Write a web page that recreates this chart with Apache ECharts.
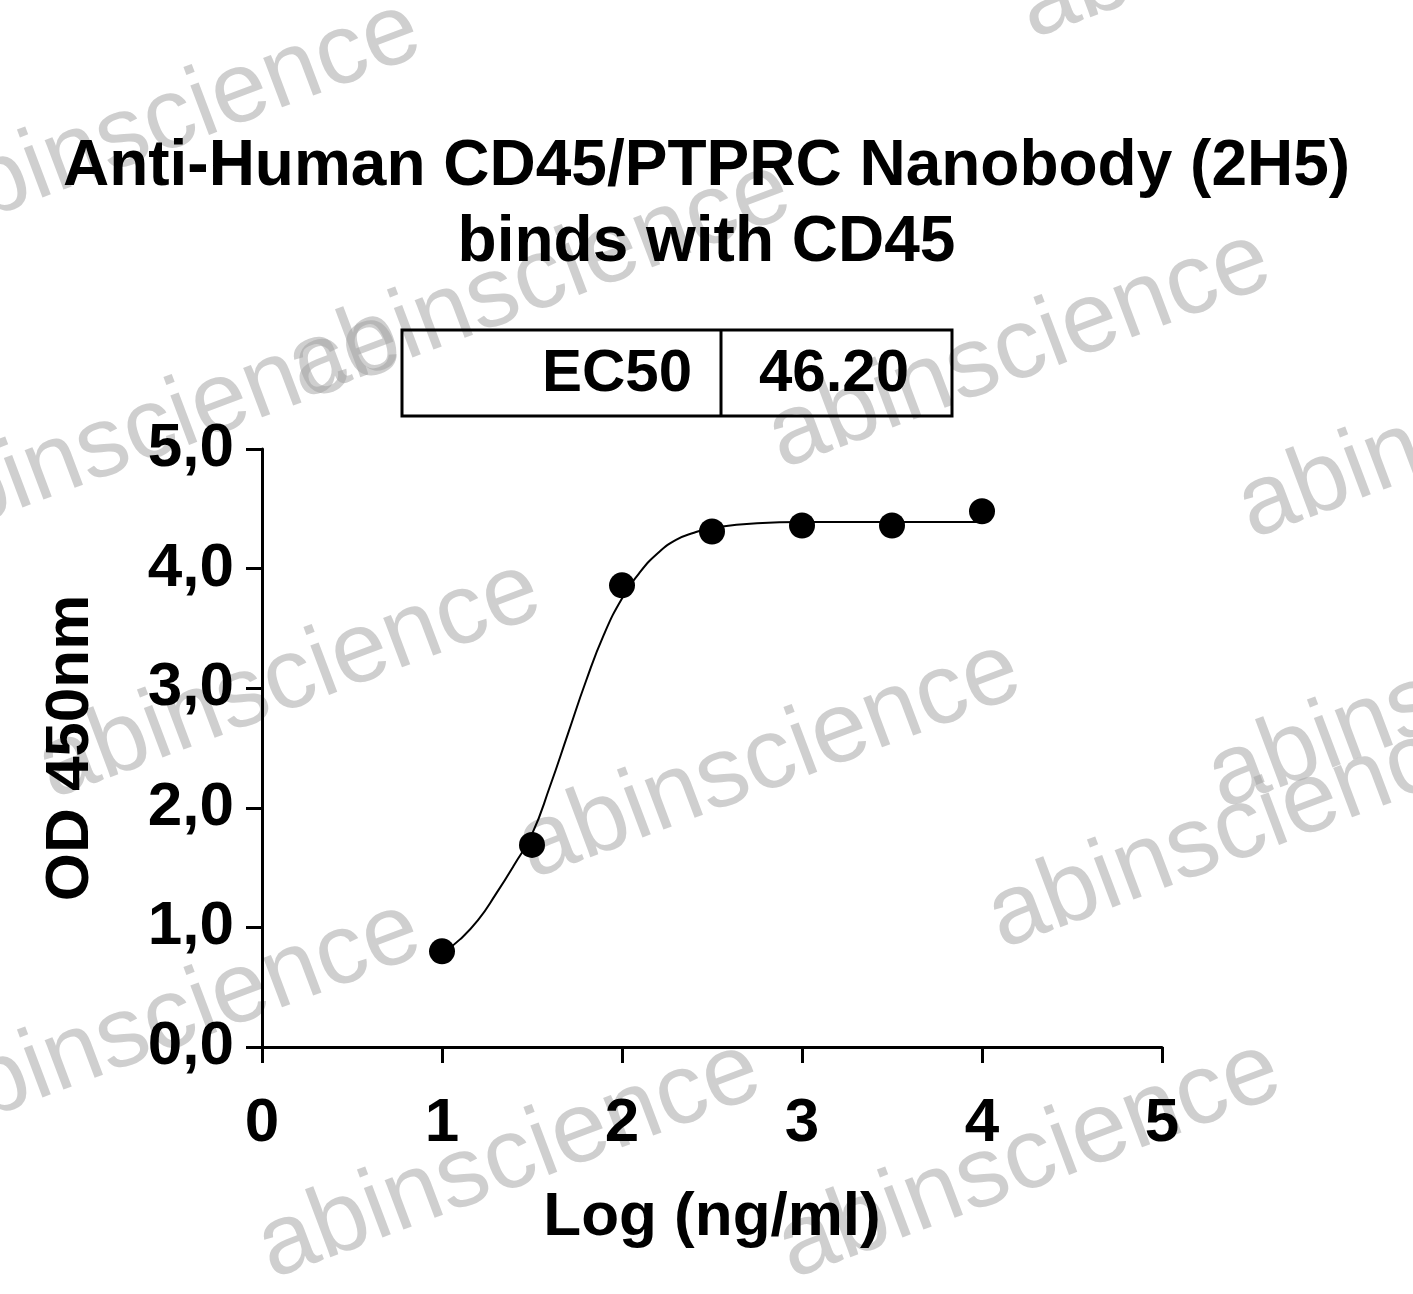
<!DOCTYPE html>
<html>
<head>
<meta charset="utf-8">
<script src="https://cdn.jsdelivr.net/npm/echarts@6/dist/echarts.min.js"></script>
<style>html,body{margin:0;padding:0;background:#fff}#main{width:1413px;height:1294px}</style>
</head>
<body>
<div id="main"></div>
<script>
// measured points (log conc, OD)
var pointX = [1, 1.5, 2, 2.5, 3, 3.5, 4];
var pointY = [0.80, 1.69, 3.86, 4.31, 4.36, 4.36, 4.48];
// fitted curve
var curveX = [1.0, 1.1, 1.2, 1.3, 1.4, 1.5, 1.6, 1.7, 1.8, 1.9, 2.0, 2.1, 2.2, 2.3, 2.4, 2.5, 2.75, 3.0, 3.5, 4.0];
var curveY = [0.78, 0.90, 1.06, 1.28, 1.52, 1.78, 2.18, 2.62, 3.06, 3.45, 3.75, 3.97, 4.13, 4.24, 4.30, 4.34, 4.38, 4.39, 4.39, 4.39];
var yTicks = ['0,0', '1,0', '2,0', '3,0', '4,0', '5,0'];
var ec50 = '46.20';

var font = '"Liberation Sans", Arial, sans-serif';
var myChart = echarts.init(document.getElementById('main'));

// watermark positions: [left, baseline-ish top]
var marks = [
    [560, -60], [1040, 60], [-60, 260], [310, 420], [790, 490],
    [1260, 560], [-80, 570], [60, 820], [540, 900], [1010, 970],
    [1230, 830], [-60, 1160], [280, 1300], [800, 1300]
];
var graphics = [];
marks.forEach(function (m) {
    graphics.push({
        type: 'text', x: m[0], y: m[1], rotation: 0.36, z: 0,
        style: { text: 'abinscience', font: '100px ' + font, fill: 'rgba(160,160,160,0.5)', verticalAlign: 'bottom' }
    });
});
graphics.push(
    { type: 'rect', z: 10, shape: { x: 402, y: 330, width: 550, height: 86 }, style: { fill: 'none', stroke: '#000', lineWidth: 3 } },
    { type: 'line', z: 10, shape: { x1: 721, y1: 330, x2: 721, y2: 416 }, style: { stroke: '#000', lineWidth: 3 } },
    { type: 'text', z: 10, x: 692, y: 374, style: { text: 'EC50', font: 'bold 60px ' + font, fill: '#000', align: 'right', verticalAlign: 'middle' } },
    { type: 'text', z: 10, x: 834, y: 374, style: { text: ec50, font: 'bold 60px ' + font, fill: '#000', align: 'center', verticalAlign: 'middle' } }
);

var option = {
    backgroundColor: '#fff',
    title: {
        text: 'Anti-Human CD45/PTPRC Nanobody (2H5)\nbinds with CD45',
        left: 'center', top: 124,
        textStyle: { fontFamily: font, fontWeight: 'bold', fontSize: 64, lineHeight: 76, color: '#000' }
    },
    grid: { left: 262, right: 251, top: 449, bottom: 247 },
    xAxis: {
        type: 'value', min: 0, max: 5, interval: 1,
        name: 'Log (ng/ml)', nameLocation: 'middle', nameGap: 140,
        nameTextStyle: { fontFamily: font, fontWeight: 'bold', fontSize: 62, color: '#000' },
        axisLine: { lineStyle: { color: '#000', width: 3 } },
        axisTick: { length: 16, lineStyle: { color: '#000', width: 3 } },
        axisLabel: { margin: 46, fontFamily: font, fontWeight: 'bold', fontSize: 62, color: '#000' },
        splitLine: { show: false }
    },
    yAxis: {
        type: 'value', min: 0, max: 5, interval: 1,
        name: 'OD 450nm', nameLocation: 'middle', nameGap: 160, nameRotate: 90,
        nameTextStyle: { fontFamily: font, fontWeight: 'bold', fontSize: 62, color: '#000' },
        axisLine: { lineStyle: { color: '#000', width: 3 } },
        axisTick: { length: 16, lineStyle: { color: '#000', width: 3 } },
        axisLabel: {
            margin: 28, fontFamily: font, fontWeight: 'bold', fontSize: 62, color: '#000',
            formatter: function (v) { return yTicks[Math.round(v)]; }
        },
        splitLine: { show: false }
    },
    series: [
        {
            type: 'line', smooth: true, symbol: 'none', z: 5,
            lineStyle: { color: '#000', width: 2 },
            data: curveX.map(function (x, i) { return [x, curveY[i]]; })
        },
        {
            type: 'scatter', symbolSize: 26, z: 6,
            itemStyle: { color: '#000', opacity: 1 },
            data: pointX.map(function (x, i) { return [x, pointY[i]]; })
        }
    ],
    graphic: graphics
};
myChart.setOption(option, true);
</script>
</body>
</html>
